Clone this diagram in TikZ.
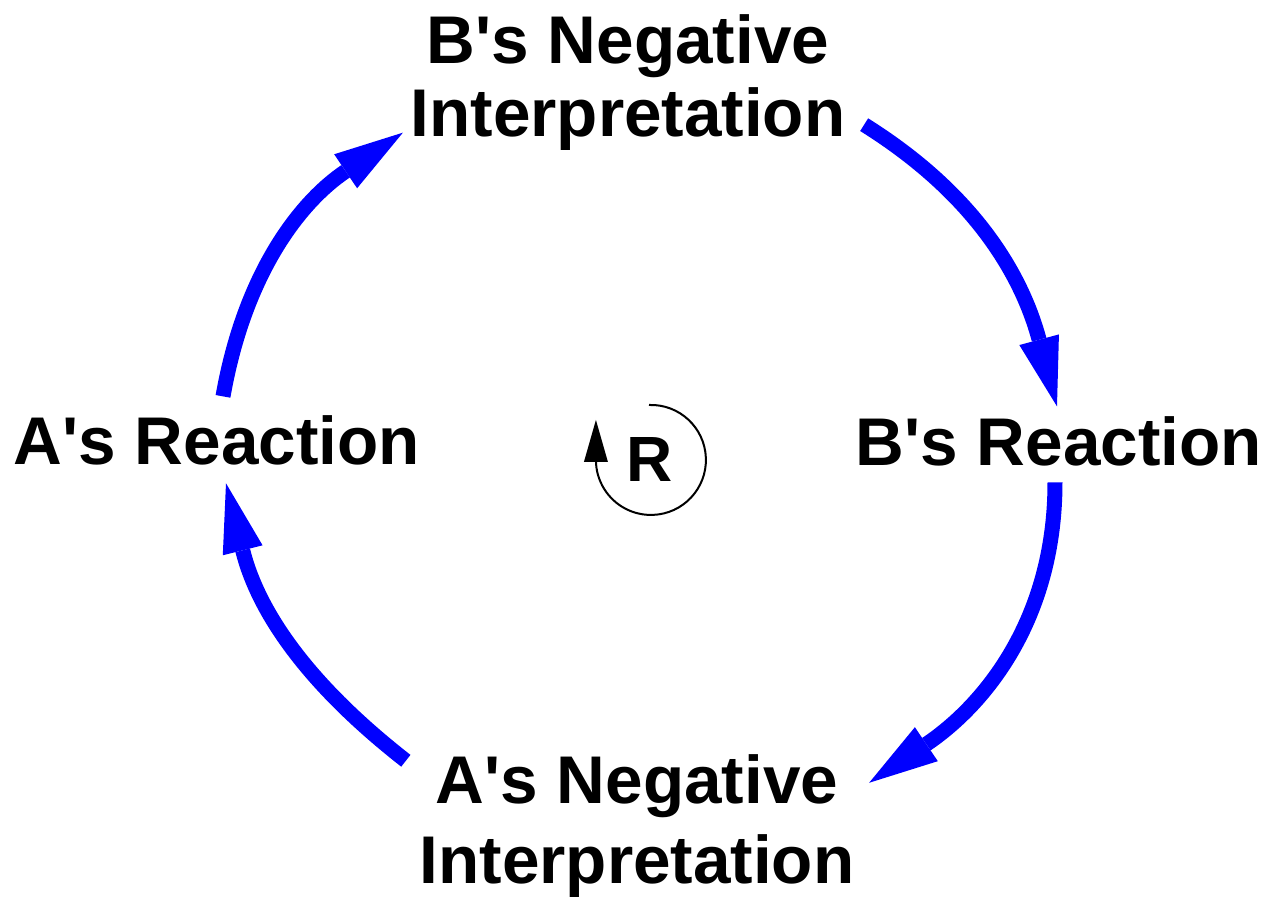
\documentclass[tikz,border=0pt]{standalone}
\usepackage{fontspec}
\setmainfont{Liberation Sans}[Ligatures=TeXOff]
\usetikzlibrary{arrows.meta,calc}

\begin{document}
\begin{tikzpicture}[x=0.1mm, y=0.1mm,
  lbl/.style={font=\bfseries\fontsize{19.2pt}{20.8pt}\selectfont, align=center, inner sep=0pt},
  flow/.style={draw=blue, line width=1.5mm, -{Triangle[length=6.9mm, width=4.1mm, line width=0pt]}},
  loopy/.style={line width=0.2mm, -{Triangle[length=4.2mm, width=2.4mm, line width=0pt]}}]
  \useasboundingbox (0,0) rectangle (1265,898);
  % the four variables
  \node[lbl, anchor=base] (arx) at (217,433) {A's Reaction};
  \node[lbl, anchor=base] (brx) at (1059,432) {B's Reaction};
  \node[lbl] (bni) at (628,815) {B's Negative\\Interpretation};
  \node[lbl] (ani) at (637,72) {A's Negative\\[0.7mm]Interpretation};
  % loop marker
  \node[font=\bfseries\fontsize{18.2pt}{20pt}\selectfont, inner sep=0pt] (rl) at (650,438) {R};
  \draw[loopy] ($(rl.center)+(-1,55)$) arc[start angle=92, end angle=-180, radius=55] -- ++(0,40);
  % links
  \draw[flow] ($(arx.north)+(6,19)$) to[out=80, in=214] ($(bni.south west)+(-7,19)$);
  \draw[flow] ($(bni.south east)+(18,27)$) to[out=-32, in=105] ($(brx.north)+(-2,10)$);
  \draw[flow] ($(brx.south)+(-4,-15)$) to[out=-90, in=34] ($(ani.north east)+(14,-29)$);
  \draw[flow] ($(ani.north west)+(-13,-7)$) to[out=142, in=-76] ($(arx.south)+(9,-17)$);
\end{tikzpicture}
\end{document}
